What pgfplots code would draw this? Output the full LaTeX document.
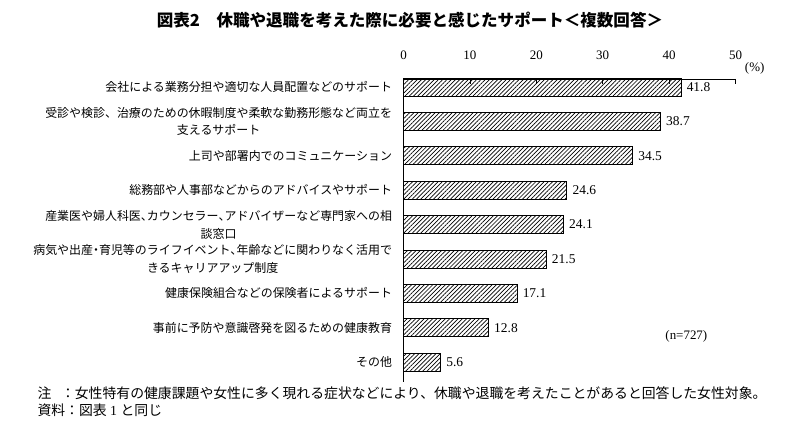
\documentclass[border=0pt]{standalone}
\usepackage{fontspec}
\usepackage{pgfplots}
\pgfplotsset{compat=1.18}
\usetikzlibrary{patterns.meta}
\setmainfont{Liberation Serif}
\newfontfamily\jp{Noto Sans CJK JP}
\newfontfamily\jpp[RawFeature=+palt]{Noto Sans CJK JP}
\newcommand\pc[1]{{\jpp #1}}

\begin{document}
\begin{tikzpicture}
\path[use as bounding box] (0,0) rectangle (799bp,429bp);

% title
\node[font=\jp\bfseries\fontsize{16.6}{18}\selectfont] at (410bp,409bp)
  {図表2　休職や退職を考えた際に必要と感じたサポート＜複数回答＞};

\begin{axis}[
  at={(403.5bp,47bp)}, anchor=south west,
  scale only axis,
  width=332bp, height=303bp,
  xmin=0, xmax=50,
  ymin=-0.575, ymax=8.233,
  axis x line*=top,
  axis y line*=left,
  axis line style={black, line width=0.8pt},
  xtick={0,10,20,30,40,50},
  tick align=inside,
  major tick length=5bp,
  tick style={black, line width=0.8pt},
  xticklabel style={font=\fontsize{13}{14}\selectfont, yshift=16bp},
  ytick={0,1,2,3,4,5,6,7,8},
  ytick style={draw=none},
  yticklabels={
    その他,
    事前に予防や意識啓発を図るための健康教育,
    健康保険組合などの保険者によるサポート,
    {病気や出産\pc{・}育児等のライフイベント\pc{、}年齢などに関わりなく活用で\\きるキャリアアップ制度},
    {産業医や婦人科医\pc{、}カウンセラー\pc{、}アドバイザーなど専門家への相\\談窓口},
    総務部や人事部などからのアドバイスやサポート,
    上司や部署内でのコミュニケーション,
    {受診や検診、治療のための休暇制度や柔軟な勤務形態など両立を\\支えるサポート},
    会社による業務分担や適切な人員配置などのサポート
  },
  yticklabel style={font=\jp\fontsize{12}{18}\selectfont, align=center, xshift=-3bp},
  /pgf/number format/assume math mode=true,
  xbar, bar width=18bp,
  nodes near coords={\pgfmathprintnumber[fixed,fixed zerofill,precision=1]{\pgfplotspointmeta}},
  nodes near coords style={font=\fontsize{13.5}{14}\selectfont, anchor=west, xshift=2bp},
  clip=false,
]
\addplot[draw=black, line width=0.8pt,
  pattern={Lines[angle=45,distance=3bp,line width=0.7bp]}, pattern color=black]
  coordinates {
  (5.6,0) (12.8,1) (17.1,2) (21.5,3) (24.1,4) (24.6,5) (34.5,6) (38.7,7) (41.8,8)
};
\node[font=\fontsize{13}{14}\selectfont, anchor=west] at (axis cs:50.9,8.55) {(\%)};
\node[font=\fontsize{13}{14}\selectfont] at (axis cs:42.6,0.75) {(n=727)};
\end{axis}

% notes
\node[font=\jp\fontsize{13.9}{16}\selectfont, anchor=west] at (34bp,36bp)
  {注\hspace{0.7em}：女性特有の健康課題や女性に多く現れる症状などにより、休職や退職を考えたことがあると回答した女性対象。};
\node[font=\jp\fontsize{13.9}{16}\selectfont, anchor=west] at (34bp,19bp)
  {資料：図表{\rmfamily\ 1 }と同じ};
\end{tikzpicture}
\end{document}
